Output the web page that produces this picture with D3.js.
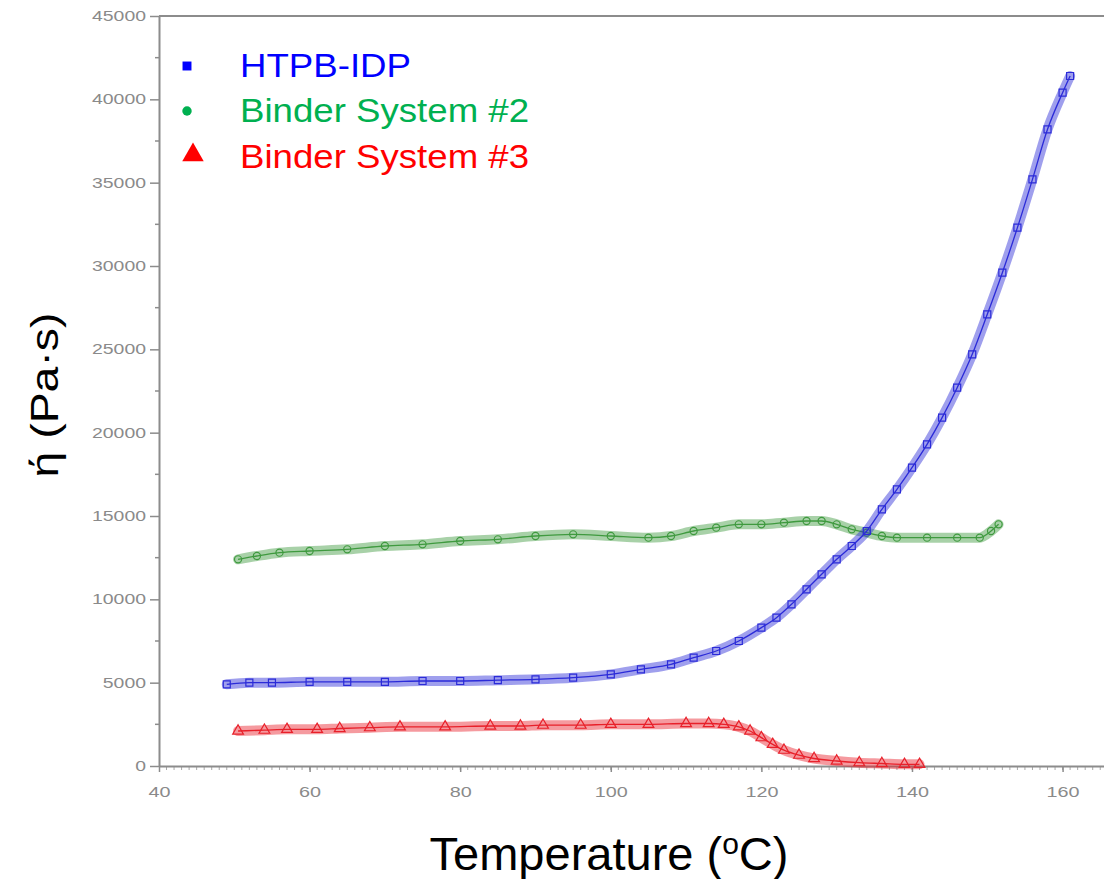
<!DOCTYPE html>
<html>
<head>
<meta charset="utf-8">
<script src="https://cdn.jsdelivr.net/npm/d3@7"></script>
<style>
  body { margin: 0; background: #fff; }
  svg { display: block; font-family: "Liberation Sans", Arial, sans-serif; }
</style>
</head>
<body>
<svg id="chart" width="1104" height="879"></svg>
<script>
// values (temperature in °C, viscosity in Pa·s)
const htpbTemp = [49, 52, 55, 60, 65, 70, 75, 80, 85, 90, 95, 100, 104, 108, 111, 114, 117, 120, 122, 124, 126, 128, 130, 132, 134, 136, 138, 140, 142, 144, 146, 148, 150, 152, 154, 156, 158, 160, 161];
const htpbEta  = [4900, 5000, 5000, 5050, 5050, 5050, 5100, 5100, 5150, 5200, 5300, 5500, 5800, 6100, 6500, 6900, 7500, 8300, 8900, 9700, 10600, 11500, 12400, 13200, 14100, 15400, 16600, 17900, 19300, 20900, 22700, 24700, 27100, 29600, 32300, 35200, 38200, 40400, 41400];

const bs2Temp = [50.5, 53, 56, 60, 65, 70, 75, 80, 85, 90, 95, 100, 105, 108, 111, 114, 117, 120, 123, 126, 128, 130, 132, 134, 136, 138, 142, 146, 149, 150.5, 151.5];
const bs2Eta  = [12400, 12600, 12800, 12900, 13000, 13200, 13300, 13500, 13600, 13800, 13900, 13800, 13700, 13800, 14100, 14300, 14500, 14500, 14600, 14700, 14700, 14500, 14200, 14000, 13800, 13700, 13700, 13700, 13700, 14100, 14500];

const bs3Temp = [50.5, 54, 57, 61, 64, 68, 72, 78, 84, 88, 91, 96, 100, 105, 110, 113, 115, 117, 118.5, 120, 121.5, 123, 125, 127, 130, 133, 136, 139, 141];
const bs3Eta  = [2100, 2150, 2200, 2200, 2250, 2300, 2350, 2350, 2400, 2400, 2450, 2450, 2500, 2500, 2550, 2550, 2500, 2350, 2100, 1700, 1300, 950, 650, 450, 300, 200, 150, 100, 100];

const xTicks = [40, 60, 80, 100, 120, 140, 160];
const yTicks = [0, 5000, 10000, 15000, 20000, 25000, 30000, 35000, 40000, 45000];

const legendNames = ["HTPB-IDP", "Binder System #2", "Binder System #3"];
const legendColors = ["#0000ff", "#00b050", "#ff0000"];

const svg = d3.select("#chart");
const axisColor = "#8c8c8c";

const x = d3.scaleLinear().domain([40, 165.5]).range([159, 1104]);
const y = d3.scaleLinear().domain([0, 45000]).range([766, 16]);

// top frame line
svg.append("line")
  .attr("x1", x(40)).attr("x2", 1104)
  .attr("y1", y(45000)).attr("y2", y(45000))
  .attr("stroke", axisColor).attr("stroke-width", 2);

// minor ticks
svg.append("g")
  .selectAll("line")
  .data(d3.range(41, 166, 1))
  .join("line")
  .attr("x1", d => x(d)).attr("x2", d => x(d))
  .attr("y1", y(0)).attr("y2", y(0) + 4)
  .attr("stroke", "#a8a8a8").attr("stroke-width", 1);

svg.append("g")
  .selectAll("line")
  .data(d3.range(2500, 45000, 5000))
  .join("line")
  .attr("x1", x(40) - 4).attr("x2", x(40))
  .attr("y1", d => y(d)).attr("y2", d => y(d))
  .attr("stroke", axisColor).attr("stroke-width", 1.5);

// axes
const yAxis = svg.append("g")
  .attr("transform", `translate(${x(40)},0)`)
  .call(d3.axisLeft(y).tickValues(yTicks).tickSize(9).tickSizeOuter(0).tickPadding(4).tickFormat(d => String(d)));

yAxis.select(".domain").attr("stroke", axisColor).attr("stroke-width", 2);
yAxis.selectAll(".tick line").attr("stroke", axisColor).attr("stroke-width", 1.5);
yAxis.selectAll(".tick text")
  .attr("fill", "#8a8a8a")
  .attr("font-size", 14)
  .attr("textLength", d => String(d).length * 10.8)
  .attr("lengthAdjust", "spacingAndGlyphs");

const xAxis = svg.append("g")
  .attr("transform", `translate(0,${y(0)})`)
  .call(d3.axisBottom(x).tickValues(xTicks).tickSize(6).tickSizeOuter(0).tickPadding(14));

xAxis.select(".domain").attr("stroke", axisColor).attr("stroke-width", 2);
xAxis.selectAll(".tick line").attr("stroke", axisColor).attr("stroke-width", 1.5);
xAxis.selectAll(".tick text")
  .attr("fill", "#8a8a8a")
  .attr("font-size", 15)
  .attr("textLength", d => String(d).length * 11)
  .attr("lengthAdjust", "spacingAndGlyphs");

// series: wide translucent band + thin line + open markers
function drawSeries(temps, vals, color, symbolType, size) {
  const pts = temps.map((t, i) => [x(t), y(vals[i])]);
  const line = d3.line().curve(d3.curveMonotoneX);
  const g = svg.append("g");

  g.append("path")
    .attr("d", line(pts))
    .attr("fill", "none")
    .attr("stroke", color)
    .attr("stroke-opacity", 0.45)
    .attr("stroke-width", 10)
    .attr("stroke-linecap", "round");

  g.append("path")
    .attr("d", line(pts))
    .attr("fill", "none")
    .attr("stroke", color)
    .attr("stroke-width", 1.3);

  g.selectAll("path.mk")
    .data(pts)
    .join("path")
    .attr("class", "mk")
    .attr("transform", d => `translate(${d[0]},${d[1]})`)
    .attr("d", d3.symbol(symbolType, size))
    .attr("fill", "none")
    .attr("stroke", color)
    .attr("stroke-width", 1.2);
}

drawSeries(bs3Temp, bs3Eta, "#e8202a", d3.symbolTriangle, 50);
drawSeries(bs2Temp, bs2Eta, "#3f9a3f", d3.symbolCircle, 40);
drawSeries(htpbTemp, htpbEta, "#2b2bd8", d3.symbolSquare, 49);

// legend
const legendY = [77, 122, 168];
const legendSym = [d3.symbolSquare, d3.symbolCircle, d3.symbolTriangle];
const legendSize = [80, 70, 200];
const legend = svg.append("g");

legend.selectAll("path")
  .data(legendNames)
  .join("path")
  .attr("transform", (d, i) => `translate(${i === 2 ? 193 : 187},${legendY[i] - (i === 2 ? 13 : 11)})`)
  .attr("d", (d, i) => d3.symbol(legendSym[i], legendSize[i])())
  .attr("fill", (d, i) => legendColors[i]);

legend.selectAll("text")
  .data(legendNames)
  .join("text")
  .attr("transform", (d, i) => `translate(240,${legendY[i]}) scale(1.11,1)`)
  .attr("font-size", 33)
  .attr("fill", (d, i) => legendColors[i])
  .text(d => d);

// axis titles
svg.append("text")
  .attr("transform", "translate(58,395) rotate(-90)")
  .attr("text-anchor", "middle")
  .attr("font-size", 39)
  .attr("textLength", 165)
  .attr("lengthAdjust", "spacingAndGlyphs")
  .attr("fill", "#000")
  .text("ή (Pa·s)");

const xTitle = svg.append("text")
  .attr("x", 609)
  .attr("y", 870)
  .attr("text-anchor", "middle")
  .attr("font-size", 47)
  .attr("fill", "#000");
xTitle.append("tspan").text("Temperature (");
xTitle.append("tspan").attr("font-size", 30).attr("baseline-shift", "super").text("o");
xTitle.append("tspan").text("C)");
</script>
</body>
</html>
